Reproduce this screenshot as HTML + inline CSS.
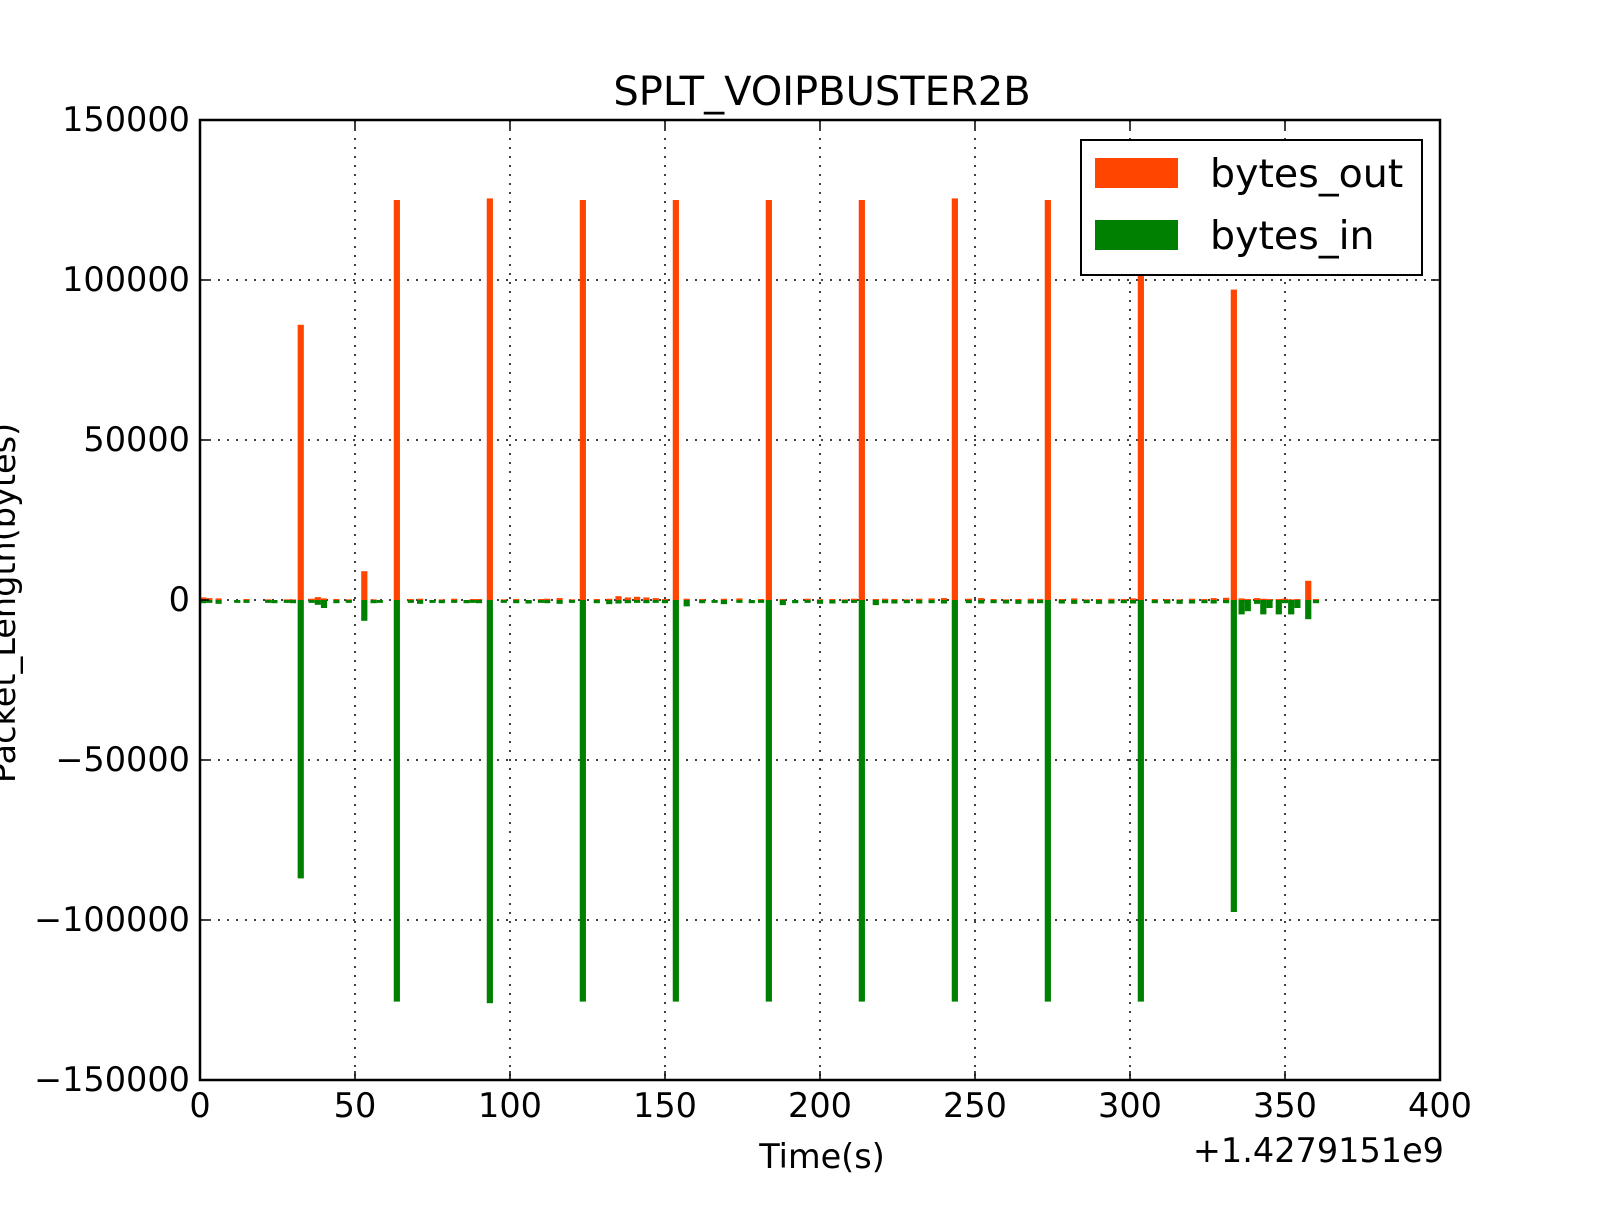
<!DOCTYPE html>
<html><head><meta charset="utf-8"><style>
html,body{margin:0;padding:0;background:#fff;}
svg text{font-family:"DejaVu Sans","Liberation Sans",sans-serif;fill:#000;}
</style></head><body>
<svg id="chart" width="1600" height="1200" xmlns="http://www.w3.org/2000/svg">
<rect x="0" y="0" width="1600" height="1200" fill="#fff"/>
<g id="grid"></g>
<g id="bars"></g>
<g id="axes"></g>
<text x="822" y="105" font-size="40" text-anchor="middle">SPLT_VOIPBUSTER2B</text>
<text x="822" y="1168" font-size="33.5" text-anchor="middle">Time(s)</text>
<text x="1444" y="1162" font-size="33.5" text-anchor="end">+1.4279151e9</text>
<text x="0" y="0" font-size="33.5" text-anchor="middle" transform="translate(15,603) rotate(-90)">Packet_Length(bytes)</text>
<g transform="translate(-5,0)">
<rect x="1086" y="140" width="341" height="135" fill="#fff" stroke="#000" stroke-width="2"/>
<rect x="1100" y="158" width="83" height="30" fill="#ff4500"/>
<text x="1215" y="187" font-size="39.5">bytes_out</text>
<rect x="1100" y="220" width="83" height="30" fill="#008000"/>
<text x="1215" y="249" font-size="39.5">bytes_in</text>
</g>
</svg>
<script>
const xTicks = [0,50,100,150,200,250,300,350,400];
const yTicks = [-150000,-100000,-50000,0,50000,100000,150000];
const yTickLabels = ["\u2212150000","\u2212100000","\u221250000","0","50000","100000","150000"];
const times = [1,3,6,12,15,22,24,28,30,32.5,36,38,40,44,48,53,56,58,63.5,68,71,75,78,82,86,88,90,93.5,98,102,106,110,112,116,120,123.5,128,132,135,138,141,144,147,150,153.5,157,162,166,169,174,178,181,183.5,188,192,196,200,204,208,211,213.5,218,221,224,228,232,236,240,243.5,248,252,256,260,264,268,271,273.5,278,282,286,290,294,298,301,303.5,308,312,316,320,324,327,331,333.5,336,338,341,343,345,348,350,352,354,357.5,360];
const bytesOut = [800,600,500,0,300,200,0,200,200,86000,400,900,500,300,200,9000,200,0,125000,300,400,0,200,400,0,300,300,125500,200,300,0,300,400,600,200,125000,300,400,1200,800,1000,800,600,300,125000,400,300,0,400,500,0,300,125000,300,0,400,200,300,200,400,125000,300,400,300,200,400,500,600,125500,400,600,300,200,300,400,300,125000,300,500,200,300,400,300,500,125000,300,300,200,400,300,600,700,97000,500,300,600,400,300,300,400,200,300,6000,300];
const bytesIn = [-1000,-900,-1200,-900,-900,-900,-1000,-900,-1000,-87000,-900,-1500,-2500,-1000,-900,-6500,-1000,-900,-125500,-900,-1200,-900,-1000,-900,-1000,-900,-1000,-126000,-900,-1000,-1100,-900,-1000,-1200,-900,-125500,-1000,-1300,-1100,-1000,-900,-1000,-900,-1000,-125500,-2000,-1000,-900,-1300,-900,-1000,-900,-125500,-1600,-1000,-900,-1200,-1100,-1000,-900,-125500,-1600,-1000,-1100,-1000,-1100,-1000,-1100,-125500,-1000,-1100,-1000,-1100,-1200,-1100,-1000,-125500,-1100,-1200,-1000,-1200,-1100,-1000,-1100,-125500,-1000,-1100,-1200,-1100,-1000,-1100,-1000,-97500,-4500,-3500,-1200,-4500,-2500,-4500,-1000,-4500,-2500,-6000,-1000];
const L=200,R=1440,T=120,B=1080;
const xs=v=>L+(v-0)/(400-0)*(R-L);
const ys=v=>T+(150000-v)/300000*(B-T);
const NS="http://www.w3.org/2000/svg";
function mk(tag,attrs,parent){const e=document.createElementNS(NS,tag);for(const k in attrs)e.setAttribute(k,attrs[k]);parent.appendChild(e);return e;}
const grid=document.getElementById('grid'),bars=document.getElementById('bars'),axes=document.getElementById('axes');
xTicks.forEach(t=>{
  const g=mk('line',{x1:xs(t),x2:xs(t),y1:T,y2:B,stroke:'#000','stroke-width':1.5,'stroke-dasharray':'2,7'},grid);
  
  
  const tk=mk('line',{x1:xs(t),x2:xs(t),y1:B,y2:B-9,stroke:'#000','stroke-width':1.5},axes);
  
  
  const tk2=mk('line',{x1:xs(t),x2:xs(t),y1:T,y2:T+9,stroke:'#000','stroke-width':1.5},axes);
  
  
  const tx=mk('text',{x:xs(t),y:B+37,'font-size':33.5,'text-anchor':'middle'},axes);
  tx.textContent=t;
  
  
});
yTicks.forEach((t,i)=>{
  const g=mk('line',{x1:L,x2:R,y1:ys(t),y2:ys(t),stroke:'#000','stroke-width':1.5,'stroke-dasharray':'2,7'},grid);
  
  
  const tk=mk('line',{x1:L,x2:L+9,y1:ys(t),y2:ys(t),stroke:'#000','stroke-width':1.5},axes);
  
  
  const tk2=mk('line',{x1:R,x2:R-9,y1:ys(t),y2:ys(t),stroke:'#000','stroke-width':1.5},axes);
  
  
  const tx=mk('text',{x:L-10,y:ys(t)+11,'font-size':33.5,'text-anchor':'end'},axes);
  tx.textContent=yTickLabels[i];
  
  
});
const bw=2;
times.forEach((t,i)=>{
  const o=bytesOut[i],n=bytesIn[i];
  if(o>0){const r=mk('rect',{x:xs(t-bw/2),width:xs(bw)-xs(0),y:ys(o),height:ys(0)-ys(o),fill:'#ff4500'},bars);
    
    }
  if(n<0){const r=mk('rect',{x:xs(t-bw/2),width:xs(bw)-xs(0),y:ys(0),height:ys(n)-ys(0),fill:'#008000'},bars);
    
    }
});
const fr=mk('rect',{x:L,y:T,width:R-L,height:B-T,fill:'none',stroke:'#000','stroke-width':2.5},axes);


</script>
</body></html>
